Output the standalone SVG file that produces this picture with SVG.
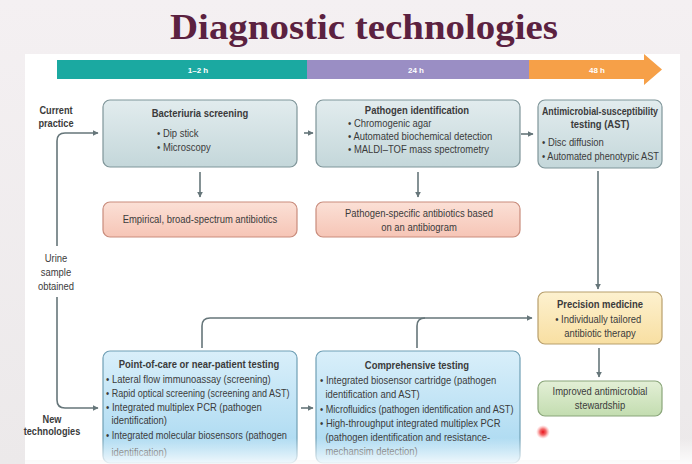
<svg xmlns="http://www.w3.org/2000/svg" width="692" height="464" viewBox="0 0 692 464">
<defs>
<linearGradient id="bgG" x1="0" y1="0" x2="0" y2="1"><stop offset="0" stop-color="#f4f0f2"/><stop offset="1" stop-color="#ece9ea"/></linearGradient>
<linearGradient id="grayG" x1="0" y1="0" x2="0" y2="1"><stop offset="0" stop-color="#e2ecee"/><stop offset="1" stop-color="#c4d7da"/></linearGradient>
<linearGradient id="blueG" x1="0" y1="0" x2="0" y2="1"><stop offset="0" stop-color="#d9effa"/><stop offset="1" stop-color="#a6d7f0"/></linearGradient>
<linearGradient id="pinkG" x1="0" y1="0" x2="0" y2="1"><stop offset="0" stop-color="#fbe0d6"/><stop offset="1" stop-color="#f6c5b6"/></linearGradient>
<linearGradient id="yelG" x1="0" y1="0" x2="0" y2="1"><stop offset="0" stop-color="#fdf1cf"/><stop offset="1" stop-color="#f8dfa2"/></linearGradient>
<linearGradient id="grnG" x1="0" y1="0" x2="0" y2="1"><stop offset="0" stop-color="#e3efd6"/><stop offset="1" stop-color="#c3ddb0"/></linearGradient>
<linearGradient id="fadeG" x1="0" y1="0" x2="0" y2="1"><stop offset="0" stop-color="#ffffff" stop-opacity="0"/><stop offset="1" stop-color="#ffffff" stop-opacity="0.85"/></linearGradient>
<radialGradient id="dotG"><stop offset="0" stop-color="#e8101a"/><stop offset="0.45" stop-color="#f04848" stop-opacity="0.8"/><stop offset="1" stop-color="#ff9a9a" stop-opacity="0"/></radialGradient>
<marker id="ah" viewBox="0 0 10 10" refX="9" refY="5" markerWidth="6" markerHeight="6" markerUnits="userSpaceOnUse" orient="auto"><path d="M0,0 L10,5 L0,10 z" fill="#66767a"/></marker>
</defs>
<style>
text{font-family:"Liberation Sans",Arial,sans-serif;fill:#3b3b3b;font-size:10.5px}
.t{font-weight:bold;text-anchor:middle}
.c{text-anchor:middle}
.lbl{font-weight:bold;text-anchor:middle;font-size:10.2px}
.bar{font-weight:bold;fill:#ffffff;font-size:8px;text-anchor:middle}
.g rect{stroke:#7f9599;stroke-width:1.2}
.b rect{stroke:#6f9fb5;stroke-width:1.2}
.p rect{stroke:#c98c7c;stroke-width:1.2}
.y rect{stroke:#b89f6c;stroke-width:1.2}
.n rect{stroke:#8aa67a;stroke-width:1.2}
.ln{fill:none;stroke:#66767a;stroke-width:1.6}
</style>
<rect x="0" y="0" width="692" height="464" fill="url(#bgG)"/>
<rect x="25" y="54" width="655" height="406" fill="#ffffff"/>
<text x="364" y="39" textLength="388" lengthAdjust="spacingAndGlyphs" style="font-family:'Liberation Serif','Times New Roman',serif;font-weight:bold;font-size:35px;fill:#5b2140;text-anchor:middle">Diagnostic technologies</text>

<g id="timeline">
<rect x="57" y="60" width="250" height="19" fill="#1ba9a1"/>
<rect x="307" y="60" width="222" height="19" fill="#9a8ec4"/>
<path d="M529,60 H644 V54 L662,69.5 L644,85 V79 H529 z" fill="#f6a048"/>
<text class="bar" x="198" y="73">1–2 h</text>
<text class="bar" x="416" y="73">24 h</text>
<text class="bar" x="597" y="73">48 h</text>
</g>

<g id="labels">
<g transform="matrix(.9 0 0 1 5.6 0)">
<text class="lbl" x="56" y="114">Current</text>
<text class="lbl" x="56" y="127">practice</text>
<text class="c" x="56" y="262">Urine</text>
<text class="c" x="56" y="276">sample</text>
<text class="c" x="56" y="290">obtained</text>
</g>
<g transform="matrix(.9 0 0 1 5.2 0)">
<text class="lbl" x="52" y="423">New</text>
<text class="lbl" x="52" y="435">technologies</text>
</g>
</g>

<g id="connectors">
<path class="ln" d="M57,246 V141 Q57,133 65,133 H98" marker-end="url(#ah)"/>
<path class="ln" d="M57,297 V400 Q57,408 65,408 H98" marker-end="url(#ah)"/>
<path class="ln" d="M304,133 H313" marker-end="url(#ah)"/>
<path class="ln" d="M521,134 H533" marker-end="url(#ah)"/>
<path class="ln" d="M200,172 V197" marker-end="url(#ah)"/>
<path class="ln" d="M418,172 V197" marker-end="url(#ah)"/>
<path class="ln" d="M598,171 V289" marker-end="url(#ah)"/>
<path class="ln" d="M599,348 V377" marker-end="url(#ah)"/>
<path class="ln" d="M202,348 V326 Q202,318 210,318 H532" marker-end="url(#ah)"/>
<path class="ln" d="M417,348 V326 Q417,318 425,318"/>
<path class="ln" d="M301,408 H313" marker-end="url(#ah)"/>
</g>

<g id="bacteriuria" class="g">
<rect x="103" y="100" width="194" height="67" rx="7" fill="url(#grayG)"/>
<g transform="matrix(.9 0 0 1 20 0)"><text class="t" x="200" y="117">Bacteriuria screening</text></g>
<g transform="matrix(.9 0 0 1 15.7 0)">
<text x="157" y="137">• Dip stick</text>
<text x="157" y="151">• Microscopy</text>
</g>
</g>
<g id="pathogen" class="g">
<rect x="316" y="100" width="204" height="67" rx="7" fill="url(#grayG)"/>
<g transform="matrix(.9 0 0 1 41.7 0)"><text class="t" x="417" y="114">Pathogen identification</text></g>
<g transform="matrix(.9 0 0 1 34.8 0)">
<text x="348" y="127">• Chromogenic agar</text>
<text x="348" y="140">• Automated biochemical detection</text>
<text x="348" y="153">• MALDI–TOF mass spectrometry</text>
</g>
</g>
<g id="ast" class="g">
<rect x="538" y="100" width="124" height="68" rx="7" fill="url(#grayG)"/>
<g transform="matrix(.9 0 0 1 60 0)">
<text class="t" x="600" y="115" textLength="129" lengthAdjust="spacingAndGlyphs">Antimicrobial-susceptibility</text>
<text class="t" x="600" y="128">testing (AST)</text>
</g>
<g transform="matrix(.9 0 0 1 54.2 0)">
<text x="542" y="146">• Disc diffusion</text>
<text x="542" y="160" textLength="130" lengthAdjust="spacingAndGlyphs">• Automated phenotypic AST</text>
</g>
</g>
<g id="empirical" class="p">
<rect x="103" y="202" width="194" height="35" rx="7" fill="url(#pinkG)"/>
<g transform="matrix(.9 0 0 1 20 0)"><text class="c" x="200" y="223">Empirical, broad-spectrum antibiotics</text></g>
</g>
<g id="specific" class="p">
<rect x="316" y="202" width="204" height="35" rx="7" fill="url(#pinkG)"/>
<g transform="matrix(.9 0 0 1 41.9 0)">
<text class="c" x="419" y="217">Pathogen-specific antibiotics based</text>
<text class="c" x="419" y="231">on an antibiogram</text>
</g>
</g>
<g id="precision" class="y">
<rect x="538" y="292" width="124" height="52" rx="7" fill="url(#yelG)"/>
<g transform="matrix(.9 0 0 1 60 0)">
<text class="t" x="600" y="308">Precision medicine</text>
<text class="c" x="598" y="323">• Individually tailored</text>
<text class="c" x="600" y="337">antibiotic therapy</text>
</g>
</g>
<g id="stewardship" class="n">
<rect x="538" y="381" width="124" height="35" rx="7" fill="url(#grnG)"/>
<g transform="matrix(.9 0 0 1 60 0)">
<text class="c" x="600" y="395">Improved antimicrobial</text>
<text class="c" x="600" y="409">stewardship</text>
</g>
</g>
<g id="poc" class="b">
<rect x="103" y="351" width="194" height="112" rx="7" fill="url(#blueG)"/>
<g transform="matrix(.9 0 0 1 19.9 0)"><text class="t" x="199" y="368">Point-of-care or near-patient testing</text></g>
<g transform="matrix(.9 0 0 1 10.6 0)">
<text x="106" y="383">• Lateral flow immunoassay (screening)</text>
<text x="106" y="397" textLength="204" lengthAdjust="spacingAndGlyphs">• Rapid optical screening (screening and AST)</text>
<text x="106" y="411">• Integrated multiplex PCR (pathogen</text>
<text x="112" y="424">identification)</text>
<text x="106" y="439" textLength="201" lengthAdjust="spacingAndGlyphs">• Integrated molecular biosensors (pathogen</text>
<text x="112" y="456">identification)</text>
</g>
</g>
<g id="comprehensive" class="b">
<rect x="316" y="351" width="204" height="112" rx="7" fill="url(#blueG)"/>
<g transform="matrix(.9 0 0 1 41.7 0)"><text class="t" x="417" y="369">Comprehensive testing</text></g>
<g transform="matrix(.9 0 0 1 32 0)">
<text x="320" y="384">• Integrated biosensor cartridge (pathogen</text>
<text x="326" y="398">identification and AST)</text>
<text x="320" y="413" textLength="215" lengthAdjust="spacingAndGlyphs">• Microfluidics (pathogen identification and AST)</text>
<text x="320" y="427">• High-throughput integrated multiplex PCR</text>
<text x="326" y="441">(pathogen identification and resistance-</text>
<text x="326" y="455">mechansim detection)</text>
</g>
</g>
<rect x="25" y="438" width="667" height="26" fill="url(#fadeG)"/>
<circle cx="543" cy="432" r="7" fill="url(#dotG)"/>
</svg>
